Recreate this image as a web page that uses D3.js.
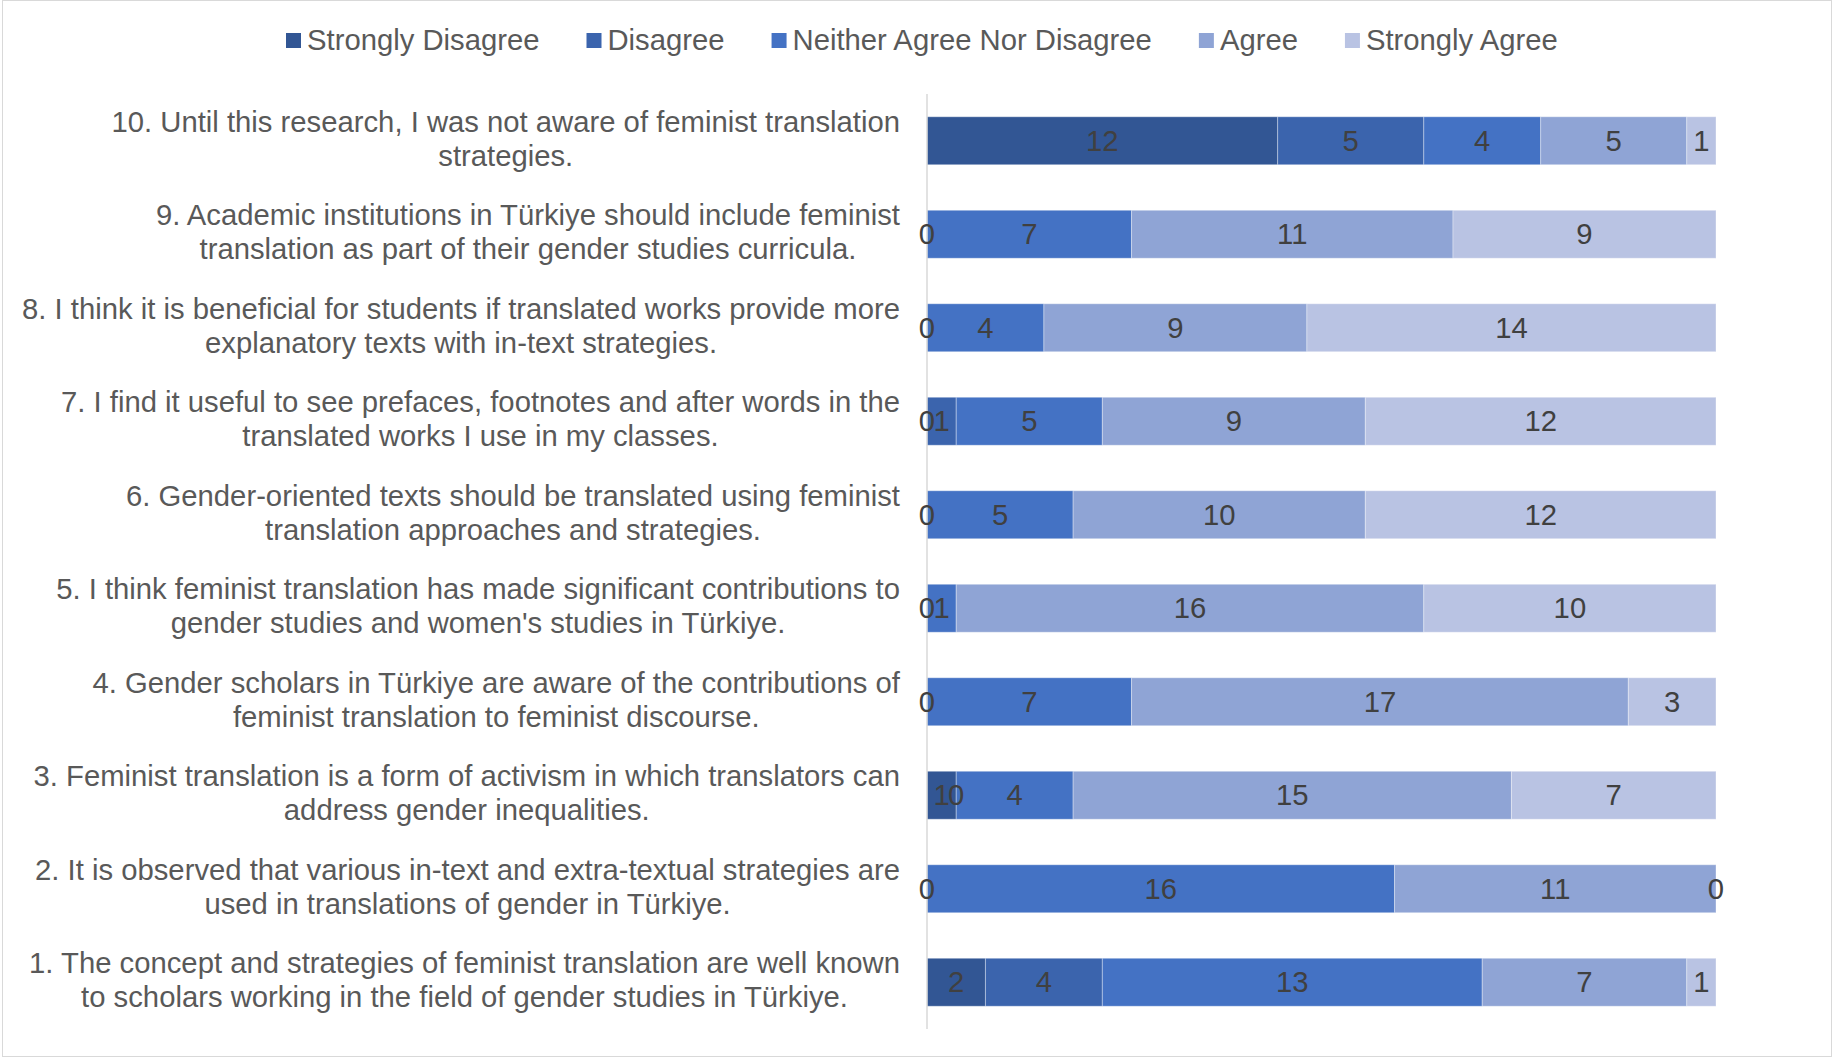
<!DOCTYPE html>
<html>
<head>
<meta charset="utf-8">
<script src="https://cdn.jsdelivr.net/npm/d3@7"></script>
<style>
  body { margin: 0; background: #fff; }
  svg { display: block; font-family: "Liberation Sans", Arial, sans-serif; }
</style>
</head>
<body>
<div id="chart"></div>
<script>
// tamaño del lienzo
var width = 1833;
var height = 1058;
var fuente = "29.25px";

// categorías (de arriba abajo) con sus dos líneas de texto
var preguntas = [
  ["10. Until this research, I was not aware of feminist translation", "strategies."],
  ["9. Academic institutions in Türkiye should include feminist", "translation as part of their gender studies curricula."],
  ["8. I think it is beneficial for students if translated works provide more", "explanatory texts with in-text strategies."],
  ["7. I find it useful to see prefaces, footnotes and after words in the", "translated works I use in my classes."],
  ["6. Gender-oriented texts should be translated using feminist", "translation approaches and strategies."],
  ["5. I think feminist translation has made significant contributions to", "gender studies and women's studies in Türkiye."],
  ["4. Gender scholars in Türkiye are aware of the contributions of", "feminist translation to feminist discourse."],
  ["3. Feminist translation is a form of activism in which translators can", "address gender inequalities."],
  ["2. It is observed that various in-text and extra-textual strategies are", "used in translations of gender in Türkiye."],
  ["1. The concept and strategies of feminist translation are well known", "to scholars working in the field of gender studies in Türkiye."]
];

var series = ["Strongly Disagree", "Disagree", "Neither Agree Nor Disagree", "Agree", "Strongly Agree"];

// valores por serie, mismo orden que preguntas (null = sin dato)
var stronglyDisagree = [12, 0, 0, 0, 0, 0, 0, 1, 0, 2];
var disagree         = [5, null, null, 1, null, null, null, 0, null, 4];
var neither          = [4, 7, 4, 5, 5, 1, 7, 4, 16, 13];
var agree            = [5, 11, 9, 9, 10, 16, 17, 15, 11, 7];
var stronglyAgree    = [1, 9, 14, 12, 12, 10, 3, 7, 0, 1];

var xTicks = [0, 27];

var colores = ["#325694", "#3b64ad", "#4472c4", "#8fa4d5", "#b9c3e3"];

var valores = [stronglyDisagree, disagree, neither, agree, stronglyAgree];

// tabla para d3.stack
var tabla = preguntas.map(function(p, i) {
  var fila = { id: i };
  series.forEach(function(s, j) { fila[s] = valores[j][i] == null ? 0 : valores[j][i]; });
  return fila;
});

var stack = d3.stack().keys(series);
var capas = stack(tabla);

var svg = d3.select("#chart").append("svg")
  .attr("width", width)
  .attr("height", height);

// borde del gráfico
svg.append("rect")
  .attr("x", 2.5).attr("y", 0.5)
  .attr("width", 1829).attr("height", 1056)
  .attr("fill", "#fff")
  .attr("stroke", "#d9d9d9");

var x = d3.scaleLinear().domain(xTicks).range([927, 1716]);
var y = d3.scaleBand()
  .domain(d3.range(preguntas.length))
  .range([94, 1029])
  .paddingInner(0.487)
  .paddingOuter(0.2435);

// barras apiladas
var grupos = svg.selectAll("g.serie")
  .data(capas)
  .enter()
  .append("g")
  .attr("class", "serie")
  .attr("fill", function(d, i) { return colores[i]; });

grupos.selectAll("rect")
  .data(function(d) { return d; })
  .enter()
  .append("rect")
  .attr("x", function(d) { return x(d[0]); })
  .attr("y", function(d, i) { return y(i); })
  .attr("width", function(d) { return x(d[1]) - x(d[0]); })
  .attr("height", y.bandwidth())
  .attr("stroke", "#ffffff")
  .attr("stroke-opacity", 0.35)
  .attr("stroke-width", 1);

// eje vertical
svg.append("line")
  .attr("x1", x(0)).attr("x2", x(0))
  .attr("y1", 94).attr("y2", 1029)
  .attr("stroke", "#d9d9d9")
  .attr("stroke-width", 1.5);

// etiquetas de datos
capas.forEach(function(capa, j) {
  svg.append("g").selectAll("text")
    .data(capa.filter(function(d, i) { return valores[j][i] != null; }))
    .enter()
    .append("text")
    .attr("x", function(d) { return (x(d[0]) + x(d[1])) / 2; })
    .attr("y", function(d) { return y(d.data.id) + y.bandwidth() / 2; })
    .attr("dy", "0.35em")
    .attr("text-anchor", "middle")
    .attr("font-size", fuente)
    .attr("fill", "#404040")
    .text(function(d) { return valores[j][d.data.id]; });
});

// etiquetas de categorías: bloque alineado a la derecha, líneas centradas
var etiquetas = svg.append("g");
preguntas.forEach(function(p, i) {
  var cy = y(i) + y.bandwidth() / 2;
  var t = etiquetas.append("text")
    .attr("font-size", fuente)
    .attr("fill", "#595959")
    .attr("text-anchor", "middle");
  var lineas = p.map(function(txt, k) {
    return t.append("tspan").attr("y", cy - 9 + k * 34).text(txt);
  });
  var maxW = d3.max(lineas, function(l) { return l.node().getComputedTextLength(); });
  lineas.forEach(function(l) { l.attr("x", 900 - maxW / 2); });
});

// leyenda
var leyenda = svg.append("g");
var lx = 286;
series.forEach(function(s, i) {
  leyenda.append("rect")
    .attr("x", lx).attr("y", 33)
    .attr("width", 15).attr("height", 15)
    .attr("fill", colores[i]);
  var t = leyenda.append("text")
    .attr("x", lx + 21).attr("y", 50)
    .attr("font-size", fuente)
    .attr("fill", "#595959")
    .text(s);
  lx += 21 + t.node().getComputedTextLength() + 47;
});
</script>
</body>
</html>
